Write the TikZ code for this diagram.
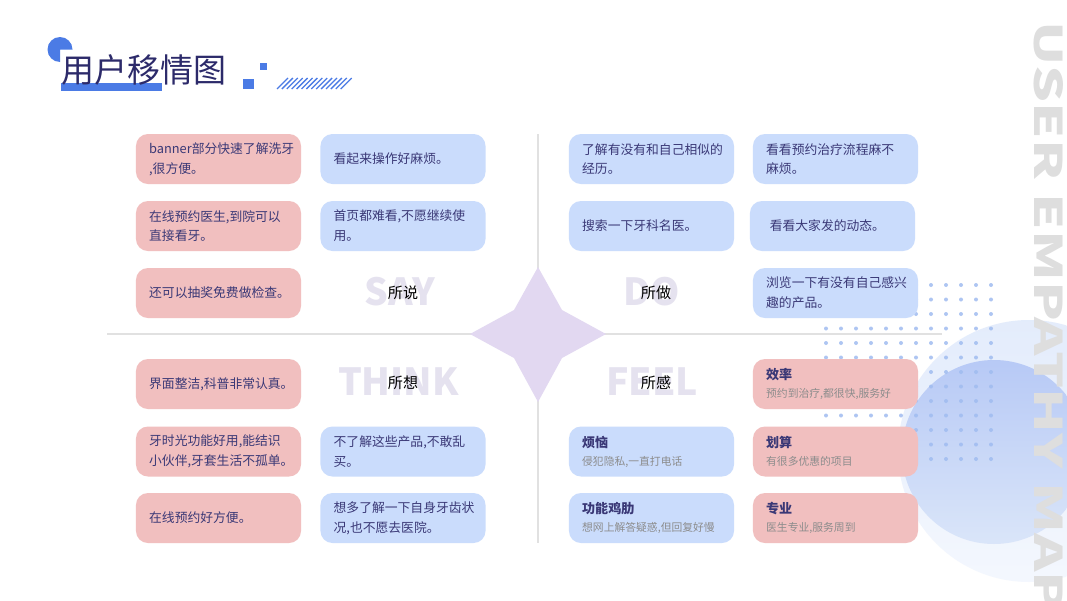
\documentclass[tikz,border=0pt]{standalone}
\usepackage{fontspec}
\setmainfont{Noto Sans CJK SC}

\definecolor{cardpink}{RGB}{241,191,191}
\definecolor{cardblue}{RGB}{202,220,252}
\definecolor{cardtext}{RGB}{58,56,118}
\definecolor{titlenavy}{RGB}{44,42,106}
\definecolor{subgray}{RGB}{140,140,140}
\definecolor{accentblue}{RGB}{75,123,229}
\definecolor{labelgray}{RGB}{229,226,239}
\definecolor{starlilac}{RGB}{226,216,241}
\definecolor{divgray}{RGB}{225,225,225}
\definecolor{dotblue}{RGB}{160,188,240}
\definecolor{circlepale}{RGB}{236,242,253}
\definecolor{circleblue}{RGB}{193,212,245}
\definecolor{sidegray}{RGB}{222,222,222}

\tikzset{every picture/.style={line width=0.75pt}}
\tikzset{
    card/.style={rounded corners=9pt, minimum width=123.75pt, minimum height=37.5pt, text width=104pt, inner xsep=9.9pt, inner ysep=2pt, align=left, text=cardtext, font=\fontsize{9.6}{14.8}\selectfont},
    pinkcard/.style={card, fill=cardpink},
    bluecard/.style={card, fill=cardblue},
    feelnote/.style={font=\fontsize{8.1}{13.5}\selectfont},
    bigword/.style={text=labelgray, font=\fontsize{28}{30}\selectfont\bfseries, inner sep=0pt},
    quadname/.style={text=black, font=\fontsize{11.3}{13}\selectfont, inner sep=0pt},
    divider/.style={draw=divgray, line width=1.1pt},
}
\newcommand{\feelhead}[1]{{\fontsize{9.8}{13.5}\selectfont\bfseries #1}}
\newcommand{\feeltext}[1]{\textcolor{subgray}{#1}}

\begin{document}
\begin{tikzpicture}[x=0.75pt,y=0.75pt,yscale=-1,xscale=1]
\useasboundingbox (0,0) rectangle (1067,600);
\fill[white] (0,0) rectangle (1067,600);

%Shape: Circle [pale, back]
    \shade[top color=circlepale!80!circleblue, bottom color=circlepale!60!white] (1029,451) circle (131);
%Shape: Circle [blue, front]
    \shade[top color=circleblue!95!blue, bottom color=circleblue!60!white] (994,452) circle (92);
%Shape: Dot grid
    \foreach \i in {0,...,11}
        \foreach \j in {0,...,12}
            \fill[dotblue, opacity=0.85] (826+15*\i,285+14.5*\j) circle (2);

%Straight Lines [dividers]
    \draw[divider] (107,334) -- (942,334);
    \draw[divider] (538,134) -- (538,543);
%Shape: Star
    \fill[starlilac] (538,267) -- (562,310) -- (606,334) -- (562,358) -- (538,402) -- (514,358) -- (470,334) -- (514,310) -- cycle;

%Shape: Title decorations
    \fill[accentblue] (60,49.5) -- (72.5,49.5) arc[start angle=0, end angle=-270, radius=12.5] -- cycle;
    \fill[accentblue] (61,83) rectangle (162,91);
    \fill[accentblue] (243,79) rectangle (254,89);
    \fill[accentblue] (260,63) rectangle (267,70);
    \foreach \k in {0,...,13}
        \draw[accentblue, line width=1pt] (277+4.9*\k,89) -- (288+4.9*\k,78);
% Text Node
    \node[anchor=west, inner sep=0pt, text=titlenavy, font=\fontsize{24.75}{28}\selectfont] (title) at (61,70) {用户移情图};

% Say
    \node[pinkcard] (saypink1) at (218.5,159) {banner部分快速了解洗牙\\,很方便。};
    \node[bluecard] (sayblue1) at (403,159) {看起来操作好麻烦。};
    \node[pinkcard] (saypink2) at (218.5,226) {在线预约医生,到院可以\\直接看牙。};
    \node[bluecard] (sayblue2) at (403,226) {首页都难看,不愿继续使\\用。};
    \node[pinkcard] (saypink3) at (218.5,293) {还可以抽奖免费做检查。};
% Think
    \node[pinkcard] (thinkpink1) at (218.5,384) {界面整洁,科普非常认真。};
    \node[pinkcard] (thinkpink2) at (218.5,451.5) {牙时光功能好用,能结识\\小伙伴,牙套生活不孤单。};
    \node[bluecard] (thinkblue2) at (403,451.5) {不了解这些产品,不敢乱\\买。};
    \node[pinkcard] (thinkpink3) at (218.5,518) {在线预约好方便。};
    \node[bluecard] (thinkblue3) at (403,518) {想多了解一下自身牙齿状\\况,也不愿去医院。};
% Do
    \node[bluecard] (doblue1) at (651.5,159) {了解有没有和自己相似的\\经历。};
    \node[bluecard] (doblue2) at (835.5,159) {看看预约治疗流程麻不\\麻烦。};
    \node[bluecard] (doblue3) at (651.5,226) {搜索一下牙科名医。};
    \node[bluecard] (doblue4) at (832.5,226) {\hspace{5pt}看看大家发的动态。};
    \node[bluecard] (doblue5) at (835.5,293) {浏览一下有没有自己感兴\\趣的产品。};
% Feel
    \node[pinkcard, feelnote] (feelpink1) at (835.5,384) {\feelhead{效率}\\\feeltext{预约到治疗,都很快,服务好}};
    \node[bluecard, feelnote] (feelblue1) at (651.5,451.5) {\feelhead{烦恼}\\\feeltext{侵犯隐私,一直打电话}};
    \node[pinkcard, feelnote] (feelpink2) at (835.5,451.5) {\feelhead{划算}\\\feeltext{有很多优惠的项目}};
    \node[bluecard, feelnote] (feelblue2) at (651.5,518) {\feelhead{功能鸡肋}\\\feeltext{想网上解答疑惑,但回复好慢}};
    \node[pinkcard, feelnote] (feelpink3) at (835.5,518) {\feelhead{专业}\\\feeltext{医生专业,服务周到}};

% Text Node [quadrant words]
    \node[bigword] (sayword) at (400,291.5) {SAY};
    \node[quadname] (say) at (403,293) {所说};
    \node[bigword] (doword) at (652,291.5) {DO};
    \node[quadname] (do) at (656,293) {所做};
    \node[bigword] (thinkword) at (398.5,381.5) {THINK};
    \node[quadname] (think) at (403,383) {所想};
    \node[bigword] (feelword) at (652,381.5) {FEEL};
    \node[quadname] (feel) at (656,383) {所感};

% Text Node [side title]
    \node[rotate=-90, inner sep=0pt, text=sidegray, font=\fontsize{28.7}{30}\selectfont\bfseries] (sidetitle) at (1049,316.5) {\scalebox{1.52}[1]{USER EMPATHY MAP}};

\end{tikzpicture}
\end{document}
